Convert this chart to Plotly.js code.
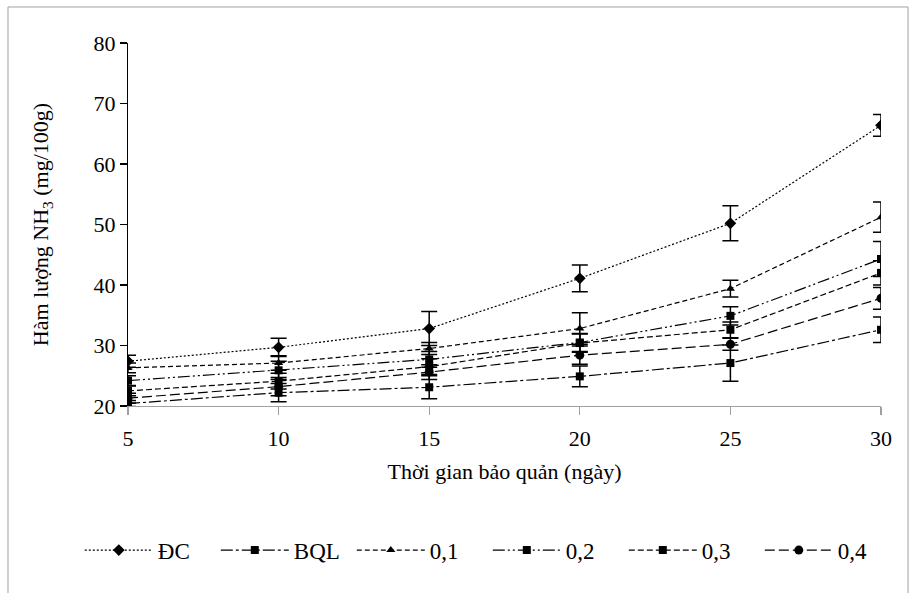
<!DOCTYPE html>
<html>
<head>
<meta charset="utf-8">
<script src="https://cdn.plot.ly/plotly-3.0.1.min.js"></script>
<style>html,body{margin:0;padding:0;background:#fff;}#chart{width:915px;height:593px;}</style>
</head>
<body>
<div id="chart"></div>
<script>
var days = [5, 10, 15, 20, 25, 30];
var seriesNames = ["ĐC", "BQL", "0,1", "0,2", "0,3", "0,4"];
var dc  = [27.4, 29.7, 32.8, 41.1, 50.2, 66.4];
var bql = [20.4, 22.2, 23.1, 24.9, 27.1, 32.6];
var c01 = [26.3, 27.1, 29.5, 32.8, 39.4, 51.2];
var c02 = [24.2, 25.9, 27.7, 30.5, 34.9, 44.3];
var c03 = [22.5, 24.1, 26.5, 30.4, 32.6, 42.0];
var c04 = [21.3, 23.2, 25.6, 28.4, 30.2, 37.8];
var errDc  = [1.0, 1.5, 2.8, 2.2, 2.9, 1.8];
var errBql = [0.5, 1.5, 1.9, 1.7, 3.0, 2.1];
var err01  = [0.8, 1.2, 1.0, 2.6, 1.4, 2.5];
var err02  = [0.8, 1.5, 1.3, 1.5, 1.5, 2.9];
var err03  = [0.8, 1.3, 1.3, 1.5, 1.3, 2.0];
var err04  = [0.8, 1.5, 1.2, 1.5, 1.0, 1.8];
var yTicks = [20, 30, 40, 50, 60, 70, 80];
var xTicks = [5, 10, 15, 20, 25, 30];

var values = [dc, bql, c01, c02, c03, c04];
var errs = [errDc, errBql, err01, err02, err03, err04];
var symbols = ["diamond", "square", "triangle-up", "square", "square", "circle"];
var dashes = ["2px,2px", "12px,3px,3px,3px", "5px,3px", "12px,3px,2px,3px,2px,3px", "6px,3px", "10px,4px"];
var sizes = [9, 8, 8, 8, 8, 9];

var traces = values.map(function (v, i) {
  return {
    x: days, y: v, name: seriesNames[i], type: "scatter", mode: "lines+markers",
    line: {color: "#000", width: 1.2, dash: dashes[i]},
    marker: {color: "#000", symbol: symbols[i], size: sizes[i]},
    error_y: {type: "data", array: errs[i], visible: true, color: "#000", thickness: 1.5, width: 8}
  };
});

var F = "Liberation Serif, Times New Roman, serif";
var layout = {
  width: 915, height: 593,
  margin: {l: 128, r: 34, t: 43, b: 187},
  paper_bgcolor: "#fff", plot_bgcolor: "#fff",
  font: {family: F, color: "#000", size: 22},
  showlegend: true,
  legend: {orientation: "h", x: -0.064, xanchor: "left", y: -0.397, yanchor: "middle",
           font: {family: F, size: 23, color: "#000"}, itemwidth: 68,
           entrywidth: 53, entrywidthmode: "pixels", traceorder: "normal",
           bgcolor: "rgba(0,0,0,0)"},
  xaxis: {range: [5, 30], tickvals: xTicks, ticktext: xTicks.map(String),
          showgrid: false, zeroline: false, showline: true, linecolor: "#a0a0a0", linewidth: 1.2,
          ticks: "outside", ticklen: 8, tickcolor: "#a0a0a0", tickwidth: 1.2,
          tickfont: {family: F, size: 22, color: "#000"}, ticklabelstandoff: 4,
          title: {text: "Thời gian bảo quản (ngày)", font: {family: F, size: 22, color: "#000"}, standoff: 14}},
  yaxis: {range: [20, 80], tickvals: yTicks, ticktext: yTicks.map(String),
          showgrid: false, zeroline: false, showline: true, linecolor: "#000", linewidth: 1.2,
          ticks: "outside", ticklen: 7, tickcolor: "#000", tickwidth: 1.2,
          tickfont: {family: F, size: 22, color: "#000"},
          title: {text: "Hàm lượng NH<sub>3</sub> (mg/100g)", font: {family: F, size: 22, color: "#000"}, standoff: 38}},
  shapes: [{type: "rect", xref: "paper", yref: "paper",
            x0: -0.1594, x1: 1.0359, y0: -0.6, y1: 1.0992,
            line: {color: "#a0a0a0", width: 1}, fillcolor: "rgba(0,0,0,0)", layer: "below"}]
};

Plotly.newPlot("chart", traces, layout, {displayModeBar: false, staticPlot: true});
</script>
</body>
</html>
